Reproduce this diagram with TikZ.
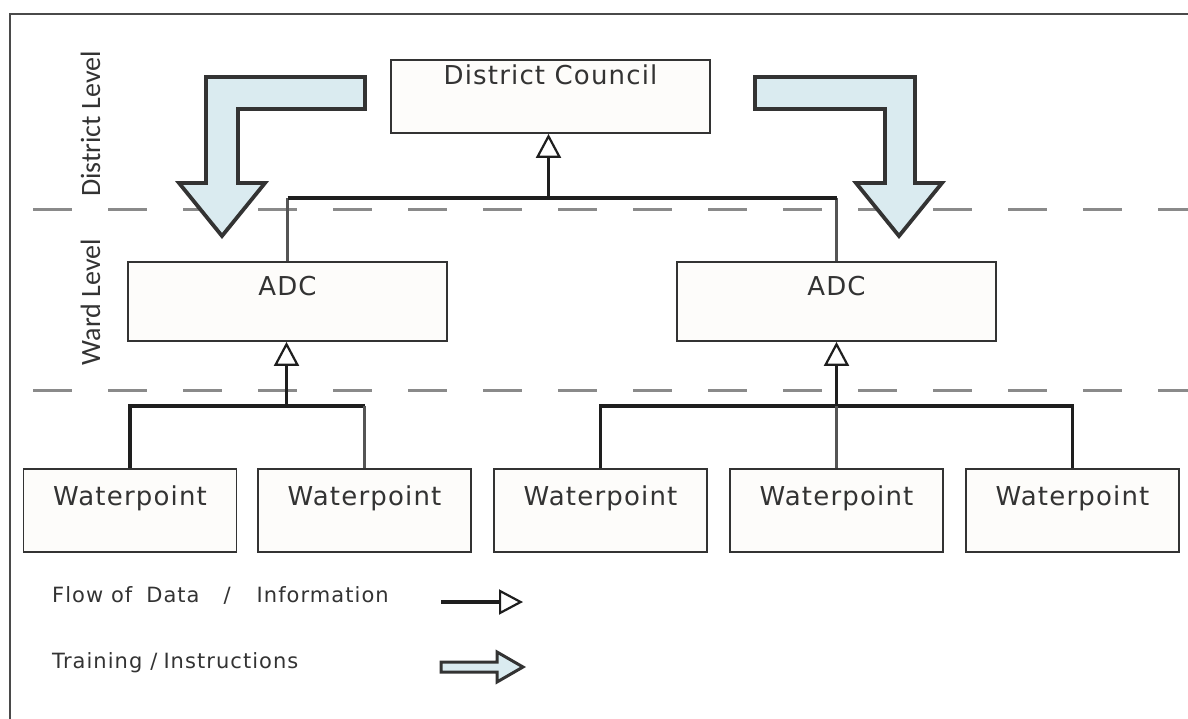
\documentclass[tikz,border=0pt]{standalone}
\usepackage{fontspec}
\setmainfont{DejaVu Sans}
\newfontfamily\boxfont[LetterSpace=4.5]{DejaVu Sans}
\newfontfamily\levelfont{Carlito}
\newfontfamily\keyfont[LetterSpace=5]{DejaVu Sans}
\usetikzlibrary{arrows.meta,calc}

\definecolor{ink}{HTML}{333333}
\definecolor{boxfill}{HTML}{FDFCFA}
\definecolor{blockfill}{HTML}{DAEBF0}
\definecolor{dashgray}{HTML}{8A8A8A}
\definecolor{linkdark}{HTML}{1E1E1E}
\definecolor{linklight}{HTML}{555555}
\definecolor{framegray}{HTML}{4A4A4A}

\tikzset{
  unitbox/.style={draw=ink, line width=1.8pt, fill=boxfill, inner sep=0pt,
    text=ink, font=\boxfont\fontsize{26}{30}\selectfont},
  dcbox/.style={unitbox, minimum width=319pt, text height=25pt, text depth=48pt},
  adcbox/.style={unitbox, minimum width=319pt, text height=33pt, text depth=46pt},
  wpbox/.style={unitbox, minimum width=213pt, text height=36pt, text depth=47pt},
  levellabel/.style={font=\levelfont\fontsize{28}{32}\selectfont, text=ink,
    rotate=90, inner sep=0pt, anchor=base},
  keylabel/.style={font=\keyfont\fontsize{21}{25}\selectfont, text=ink,
    inner sep=0pt, anchor=base west},
  dashline/.style={draw=dashgray, line width=3pt, dash pattern=on 39pt off 36pt},
  link/.style={draw=linkdark, line width=3.5pt},
  linkgray/.style={draw=linklight, line width=3.5pt},
  flow/.style={draw=linkdark, line width=3.5pt,
    -{Triangle[open, length=24pt, width=25pt, line width=2.2pt]}},
  blockarrow/.style={draw=ink, fill=blockfill, line width=3.8pt, line join=miter},
}

\begin{document}
\begin{tikzpicture}
  \useasboundingbox (0,0) rectangle (1188pt,-719pt);
  \begin{scope}[x=1pt, y=1pt]
    % outer frame (top and left edges)
    \draw[framegray, line width=2pt] (10,-719) -- (10,-14) -- (1188,-14);

    % level separators
    \draw[dashline] (33,-210) -- (1188,-210);
    \draw[dashline] (33,-390) -- (1188,-390);

    % level captions
    \node[levellabel] (lvlD) at (100,-124) {District Level};
    \node[levellabel] (lvlW) at (100,-302) {Ward Level};

    % units
    \node[dcbox]  (dc)   at (550.5,-96.5)  {District Council};
    \node[adcbox] (adcL) at (287.5,-301.5) {ADC};
    \node[adcbox] (adcR) at (836.5,-301.5) {ADC};
    \node[wpbox]  (wp1)  at (130,-510.5)   {Waterpoint};
    \node[wpbox]  (wp2)  at (364.5,-510.5) {Waterpoint};
    \node[wpbox]  (wp3)  at (600.5,-510.5) {Waterpoint};
    \node[wpbox]  (wp4)  at (836.5,-510.5) {Waterpoint};
    \node[wpbox]  (wp5)  at (1072.5,-510.5){Waterpoint};

    % bus junctions
    \coordinate (busTop) at ($(dc.south)+(-2,-64)$);
    \coordinate (busL)   at ($(adcL.south)+(-1,-64)$);
    \coordinate (busR)   at ($(adcR.south)+(0,-64)$);

    % ward -> district
    \draw[linkgray] (adcL.north) -- (adcL.north |- busTop);
    \draw[linkgray] (adcR.north) -- (adcR.north |- busTop);
    \draw[link] (adcL.north |- busTop) -- (adcR.north |- busTop);
    \draw[flow] (busTop) -- (busTop |- dc.south);

    % waterpoints -> left ward
    \draw[link] (wp1.north) |- (wp2.north |- busL);
    \draw[linkgray] (wp2.north |- busL) -- (wp2.north);
    \draw[flow] (busL) -- (busL |- adcL.south);

    % waterpoints -> right ward
    \draw[link] (wp3.north) |- (busR) -| (wp5.north);
    \draw[linkgray] (wp4.north) -- (busR);
    \draw[flow] (busR) -- (adcR.south);

    % training / instruction arrows
    \draw[blockarrow] (365,-77) -- (206,-77) -- (206,-183) -- (179,-183)
      -- (222,-236) -- (265,-183) -- (238,-183) -- (238,-109) -- (365,-109) -- cycle;
    \draw[blockarrow] (755,-77) -- (915,-77) -- (915,-183) -- (942,-183)
      -- (899,-236) -- (856,-183) -- (885,-183) -- (885,-109) -- (755,-109) -- cycle;

    % key
    \node[keylabel] (keyFlow) at (52,-602)
      {Flow of\hspace{14pt}Data\hspace{24pt}/\hspace{26pt}Information};
    \node[keylabel] (keyTrain) at (52,-668)
      {Training\hspace{8pt}/\hspace{6pt}Instructions};
    \coordinate (kf1) at (441,-602);
    \coordinate (kf2) at (523,-602);
    \draw[flow] (kf1) -- (kf2);
    \draw[blockarrow, line width=3pt] (441,-662) -- (497,-662) -- (497,-652)
      -- (523,-667) -- (497,-682) -- (497,-672) -- (441,-672) -- cycle;
  \end{scope}
\end{tikzpicture}
\end{document}
